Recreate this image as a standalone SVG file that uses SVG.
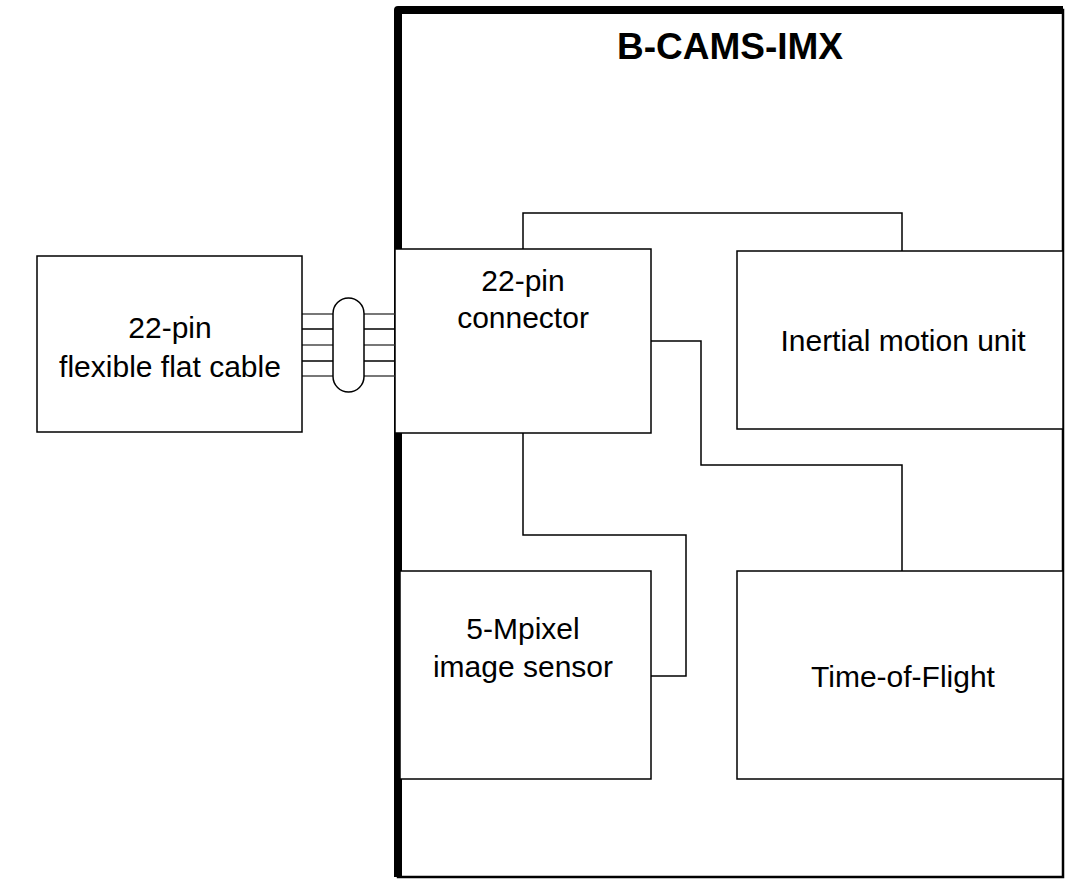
<svg xmlns="http://www.w3.org/2000/svg" width="1065" height="879" viewBox="0 0 1065 879">
<style>
.box{fill:#fff;stroke:#000;stroke-width:1.5}
.t{font-family:"Liberation Sans",Arial,sans-serif;font-size:30px;fill:#000;text-anchor:middle}
.title{font-family:"Liberation Sans",Arial,sans-serif;font-size:37px;font-weight:bold;fill:#000;text-anchor:middle}
.w{fill:none;stroke:#000;stroke-width:1.5}
.wg{fill:none;stroke:#777;stroke-width:2}
</style>
<rect width="1065" height="879" fill="#fff"/>
<g id="frame">
<rect x="398" y="10" width="665" height="867" fill="#fff" stroke="#000" stroke-width="2.5"/>
<polyline points="398,877 398,10 1063,10" fill="none" stroke="#000" stroke-width="8" stroke-linejoin="round"/>
<text class="title" x="730" y="59">B-CAMS-IMX</text>
</g>
<g id="connectors">
<polyline class="w" points="523,249 523,213 902,213 902,251"/>
<polyline class="w" points="651,341 701,341 701,465 902,465 902,571"/>
<polyline class="w" points="523,433 523,535 686,535 686,676 651,676"/>
<line class="wg" x1="302" y1="314" x2="395" y2="314"/>
<line class="w" x1="302" y1="329" x2="395" y2="329"/>
<line class="wg" x1="302" y1="345" x2="395" y2="345"/>
<line class="w" x1="302" y1="361" x2="395" y2="361"/>
<line class="wg" x1="302" y1="376" x2="395" y2="376"/>
<rect x="333" y="298" width="31" height="94" rx="15.5" ry="15.5" fill="#fff" stroke="#000" stroke-width="1.5"/>
</g>
<g id="cable">
<rect class="box" x="37" y="256" width="265" height="176"/>
<text class="t" x="170" y="338">22-pin</text>
<text class="t" x="170" y="377">flexible flat cable</text>
</g>
<g id="connector">
<rect class="box" x="395" y="249" width="256" height="184"/>
<text class="t" x="523" y="291">22-pin</text>
<text class="t" x="523" y="328">connector</text>
</g>
<g id="imu">
<rect class="box" x="737" y="251" width="326" height="178"/>
<text class="t" x="903" y="351">Inertial motion unit</text>
</g>
<g id="sensor">
<rect class="box" x="400" y="571" width="251" height="208"/>
<text class="t" x="523" y="639">5-Mpixel</text>
<text class="t" x="523" y="677">image sensor</text>
</g>
<g id="tof">
<rect class="box" x="737" y="571" width="326" height="208"/>
<text class="t" x="903" y="687">Time-of-Flight</text>
</g>
</svg>
